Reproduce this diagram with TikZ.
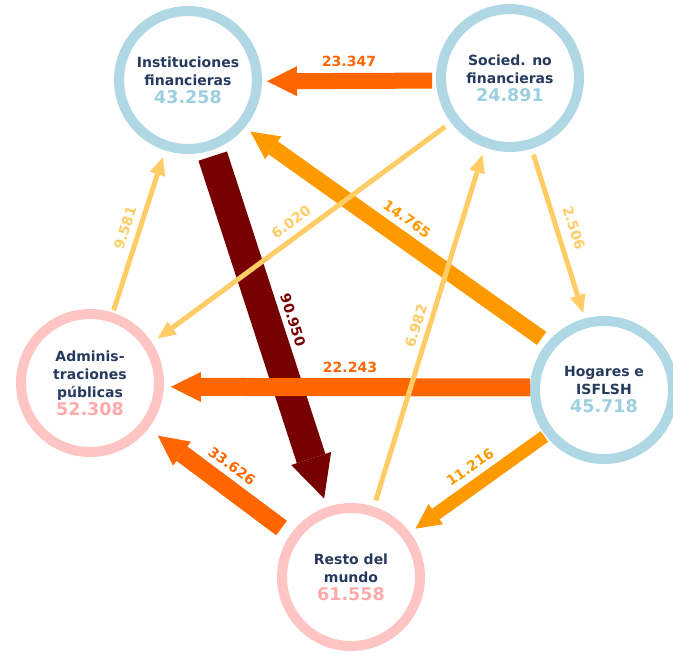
\documentclass[tikz,border=0pt]{standalone}
\usepackage{fontspec}
\setmainfont{DejaVu Sans}
\usetikzlibrary{arrows.meta}

\definecolor{anilloazul}{HTML}{B0D8E4}
\definecolor{anillorosa}{HTML}{FFC4C4}
\definecolor{cifraazul}{HTML}{9CCFDF}
\definecolor{cifrarosa}{HTML}{FFAAAA}
\definecolor{texto}{HTML}{263A5E}
\definecolor{rojizo}{HTML}{FF6600}
\definecolor{naranja}{HTML}{FF9900}
\definecolor{claro}{HTML}{FFCC66}
\definecolor{granate}{HTML}{770000}

\newcommand{\cifra}[2]{{\fontsize{17.5}{18}\selectfont\color{#1}#2}}

\begin{document}
\begin{tikzpicture}[x=1pt,y=-1pt,
    sector/.style={circle,line width=10pt,minimum size=138pt,inner sep=0pt,align=center,
      font=\fontsize{14}{18}\selectfont\bfseries,text=texto},
    azul/.style={sector,draw=anilloazul},
    rosa/.style={sector,draw=anillorosa},
    flecha/.style 2 args={line width=#1,-{Triangle[width=#2,length=#2,line width=0pt]}},
    fina/.style={claro,line width=5pt,-{Triangle[width=16pt,length=18pt,line width=0pt]}},
    etiqueta/.style={font=\fontsize{14}{14}\selectfont\bfseries,text=#1,inner sep=1pt}]
    \useasboundingbox (0,0) rectangle (673,654);

    % sectores
    \node[azul] (inst) at (188,80) {Instituciones\\financieras\\\cifra{cifraazul}{43.258}};
    \node[azul] (soc) at (510,78) {Socied. no\\financieras\\\cifra{cifraazul}{24.891}};
    \node[rosa] (adm) at (90,383) {Adminis-\\traciones\\públicas\\\cifra{cifrarosa}{52.308}};
    \node[azul] (hog) at (604,390) {Hogares e\\ISFLSH\\\cifra{cifraazul}{45.718}};
    \node[rosa] (resto) at (351,577) {Resto del\\mundo\\\cifra{cifrarosa}{61.558}};

    % flujos gruesos
    \draw[flecha={30pt}{42pt},granate,shorten <=6pt,shorten >=9pt] (inst.-72.5) -- (resto.109.7);
    \draw[flecha={16pt}{28pt},naranja,shorten <=7pt,shorten >=7pt] (hog.140) -- (inst.-40);
    \draw[flecha={13pt}{25pt},naranja,shorten <=1.5pt,shorten >=6.6pt] (hog.218.5) -- (resto.37.4);
    \draw[flecha={18pt}{30pt},rojizo,shorten >=7pt] (hog.178.5) -- (adm.-3.5);
    \draw[flecha={18pt}{30pt},rojizo,shorten <=11pt,shorten >=12pt] (resto.145.6) -- (adm.-38.9);
    \draw[flecha={16pt}{30pt},rojizo,shorten <=4pt,shorten >=5pt] (soc.182) -- (inst.-1);

    % flujos finos
    \draw[fina,shorten <=7pt,shorten >=7pt] (soc.217) -- (adm.33.9);
    \draw[fina,shorten <=6pt,shorten >=6pt] (soc.-73.4) -- (hog.105.3);
    \draw[fina,shorten <=2.5pt,shorten >=7pt] (adm.72.5) -- (inst.252);
    \draw[fina,shorten <=6.6pt,shorten >=7.6pt] (resto.72.7) -- (soc.250.7);

    % cifras de los flujos
    \node[etiqueta=rojizo] (e23347) at (349,61) {23.347};
    \node[etiqueta=granate,rotate=-72] (e90950) at (293,320) {90.950};
    \node[etiqueta=claro,rotate=36] (e6020) at (291,222) {6.020};
    \node[etiqueta=naranja,rotate=-35] (e14765) at (407,219) {14.765};
    \node[etiqueta=claro,rotate=-72] (e2506) at (574,228) {2.506};
    \node[etiqueta=claro,rotate=72] (e9581) at (125,228) {9.581};
    \node[etiqueta=rojizo] (e22243) at (350,367) {22.243};
    \node[etiqueta=rojizo,rotate=-36] (e33626) at (232,466) {33.626};
    \node[etiqueta=naranja,rotate=35] (e11216) at (470,467) {11.216};
    \node[etiqueta=claro,rotate=72] (e6982) at (416,326) {6.982};
\end{tikzpicture}
\end{document}
